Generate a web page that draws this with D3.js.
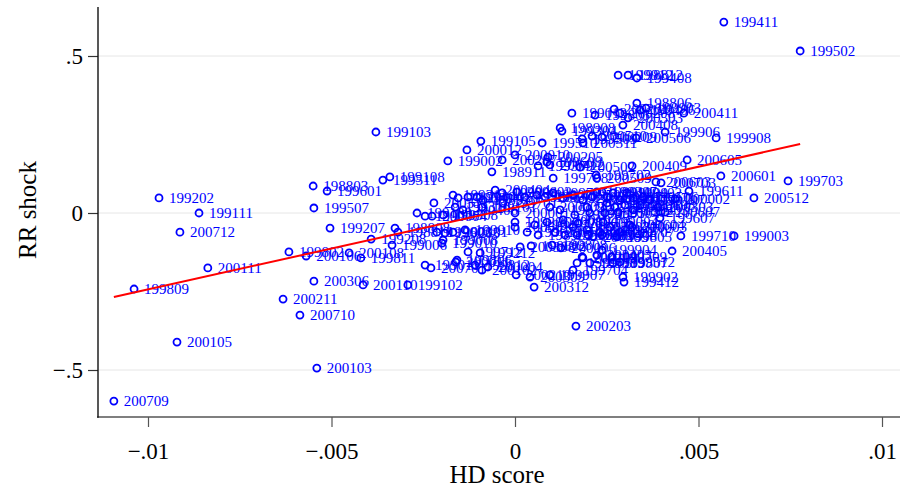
<!DOCTYPE html>
<html><head><meta charset="utf-8">
<script src="https://cdn.jsdelivr.net/npm/d3@7/dist/d3.min.js"></script>
<style>html,body{margin:0;padding:0;background:#fff;}svg{display:block;}</style>
</head><body>
<svg id="chart" width="900" height="490"></svg>
<script>
const labels = ["199411","199502","199202","199111","200712","200111","199809","200105","200709","199103",
"200103","200710","200211","200306","200110","199102","200203","200312","199412","200405",
"199003","199710","200512","199703","200601","200605","199908","200411","199611","200409",
"199906","200506","200408","198806","199408","199912","198812","200603","200002","199607",
"200003","199805","198803","199601","199507","199207","199511","199108","199105","200012",
"199002","200207","198911","199012","199803","200201","200208","200503","199903","199406",
"198908","199304","200510","200209","199509","200511","199510","200205","199609","200412",
"200010","199708","199309","200502","199311","200609","199404","200402","198910","200404",
"199204","200602","199606","200007","199306","199705","199210","199503","198909","200304",
"199911","199702","200509","199310","200406","199101","199701","200001","199206","200301",
"199612","198905","200009","199302","200104","200505","200606","199401","200305","199505",
"200212","199706","200008","199407","199910","200101","199712","199212","200308","199808",
"199806","199812","200004","200309","199907","199704","200109","199909","200403","199010",
"200011","200102","200210","199602","200006","199905","200204","199807","199512","200107",
"199608","200005","199604","200202","200604","199203","199307","200307","199409","199009",
"199402","200507","199506","199107","199211","199901","199201","200608","199303","199104",
"200302","199004","200310","199707","199508","199904","199709","199902","200303","200607",
"199802","200106","200108","199811","199208","198808","198810","200311","199109","199007",
"200704","199308","199603","199008","199006","199011","200701","200703"];
const hdScore = [0.00569,0.00777,-0.00970,-0.00861,-0.00913,-0.00837,-0.01038,-0.00921,-0.01093,-0.00379,
-0.00540,-0.00586,-0.00632,-0.00548,-0.00414,-0.00292,0.00166,0.00052,0.00297,0.00428,
0.00597,0.00452,0.00651,0.00744,0.00561,0.00469,0.00548,0.00460,0.00474,0.00319,
0.00409,0.00330,0.00294,0.00332,0.00332,0.00281,0.00308,0.00384,0.00436,0.00395,
0.00319,0.00278,-0.00550,-0.00512,-0.00548,-0.00504,-0.00360,-0.00341,-0.00093,-0.00131,
-0.00183,-0.00035,-0.00063,0.00155,0.00218,0.00270,0.00286,0.00308,0.00357,0.00341,
0.00123,0.00128,0.00210,0.00237,0.00183,0.00185,0.00074,0.00090,0.00087,0.00095,
0.00000,0.00104,0.00063,0.00177,-0.00169,-0.00155,-0.00128,-0.00104,-0.00087,-0.00054,
-0.00035,0.00005,0.00027,0.00060,0.00082,0.00104,0.00131,0.00158,0.00185,0.00210,
0.00223,0.00221,0.00223,-0.00163,-0.00142,-0.00090,-0.00033,0.00000,0.00000,0.00000,
0.00033,0.00063,0.00095,0.00123,0.00131,0.00158,0.00172,0.00196,0.00213,0.00204,
0.00196,0.00163,0.00087,0.00054,-0.00136,-0.00169,-0.00128,-0.00095,0.00014,0.00101,
-0.00158,-0.00109,-0.00074,0.00041,0.00095,0.00158,0.00185,0.00204,0.00223,-0.00199,
-0.00161,-0.00090,0.00003,0.00044,0.00125,0.00169,0.00183,0.00267,0.00286,0.00109,
0.00136,0.00169,0.00199,0.00232,0.00313,-0.00191,0.00237,0.00251,0.00267,0.00286,
0.00305,0.00322,0.00349,0.00368,0.00251,0.00272,0.00300,0.00341,0.00322,0.00245,
0.00281,0.00240,0.00259,0.00286,0.00237,0.00237,0.00264,0.00294,0.00390,0.00409,
-0.00616,-0.00569,-0.00452,-0.00420,-0.00392,-0.00327,-0.00319,-0.00221,-0.00267,-0.00245,
-0.00226,-0.00196,-0.00213,-0.00196,-0.00335,-0.00245,-0.00229,0.00398];
const rrShock = [0.608,0.516,0.048,0.000,-0.061,-0.175,-0.242,-0.411,-0.599,0.258,
-0.494,-0.325,-0.274,-0.217,-0.229,-0.229,-0.360,-0.236,-0.220,-0.121,
-0.073,-0.073,0.048,0.102,0.118,0.169,0.239,0.318,0.070,0.150,
0.258,0.239,0.280,0.350,0.430,0.439,0.439,0.099,0.045,-0.016,
-0.045,-0.076,0.086,0.070,0.016,-0.048,0.105,0.115,0.229,0.201,
0.166,0.169,0.131,0.318,0.312,0.331,0.318,0.303,0.334,0.328,
0.271,0.261,0.245,0.242,0.236,0.223,0.223,0.178,0.162,0.153,
0.185,0.111,0.150,0.146,0.057,0.048,0.051,0.051,0.041,0.073,
0.064,0.067,0.051,0.057,0.051,0.064,0.048,0.057,0.041,0.051,
0.067,0.121,0.111,0.019,0.010,0.019,0.032,0.000,-0.029,-0.045,
-0.061,-0.070,0.019,0.010,-0.022,-0.045,-0.032,-0.054,-0.076,0.000,
0.019,-0.006,-0.029,-0.038,-0.054,-0.061,-0.124,-0.127,-0.108,-0.102,
-0.150,-0.166,-0.172,-0.204,-0.197,-0.182,-0.143,-0.159,-0.134,-0.096,
-0.156,-0.182,-0.197,-0.105,-0.111,-0.159,-0.140,-0.159,-0.156,-0.061,
-0.070,-0.070,-0.070,-0.061,-0.038,-0.064,0.067,0.051,0.064,0.041,
0.064,0.048,0.051,0.041,0.032,0.019,0.025,0.025,0.010,0.000,
0.003,-0.029,-0.045,-0.061,-0.070,-0.118,-0.140,-0.204,0.019,0.003,
-0.124,-0.137,-0.127,-0.143,-0.083,-0.048,-0.061,0.032,0.000,-0.010,
-0.010,-0.006,-0.061,-0.086,-0.102,-0.166,-0.175,0.096];
// fitted line: intercept, slope
const fitCoef = [0.0172, 26.05];
const xTicks = [-0.01, -0.005, 0, 0.005, 0.01];
const xTickLabels = ["\u2212.01", "\u2212.005", "0", ".005", ".01"];
const yTicks = [0.5, 0, -0.5];
const yTickLabels = [".5", "0", "\u2212.5"];

const svg = d3.select("#chart");
const font = "'Liberation Serif','Times New Roman',serif";
const x = d3.scaleLinear().domain([-0.01, 0.01]).range([148, 882]);
const y = d3.scaleLinear().domain([-0.5, 0.5]).range([370, 56]);
const plotL = 98, plotR = 900, plotT = 7, plotB = 417;

// gridlines
svg.append("g").selectAll("line").data(yTicks).join("line")
  .attr("x1", plotL).attr("x2", plotR)
  .attr("y1", d => y(d)).attr("y2", d => y(d))
  .attr("stroke", "#e6e6e6").attr("stroke-width", 1);

// axes
const xAxis = d3.axisBottom(x).tickValues(xTicks).tickSize(10)
  .tickFormat((d, i) => xTickLabels[i]);
const gx = svg.append("g").attr("transform", `translate(0,${plotB})`).call(xAxis);
gx.select(".domain").remove();
gx.selectAll(".tick line").attr("stroke", "#555").attr("stroke-width", 1.2);
gx.selectAll(".tick text").attr("font-family", font).attr("font-size", 23)
  .attr("fill", "#000").attr("dy", "1.25em");
svg.append("line").attr("x1", plotL - 1).attr("x2", plotR).attr("y1", plotB).attr("y2", plotB)
  .attr("stroke", "#555").attr("stroke-width", 1.6);

const yAxis = d3.axisLeft(y).tickValues(yTicks).tickSize(10)
  .tickFormat((d, i) => yTickLabels[i]);
const gy = svg.append("g").attr("transform", `translate(${plotL},0)`).call(yAxis);
gy.select(".domain").remove();
gy.selectAll(".tick line").attr("stroke", "#333").attr("stroke-width", 1.2);
gy.selectAll(".tick text").attr("font-family", font).attr("font-size", 23)
  .attr("fill", "#000").attr("x", -15).attr("dy", "0.33em");
svg.append("line").attr("x1", plotL).attr("x2", plotL).attr("y1", plotT).attr("y2", plotB + 0.8)
  .attr("stroke", "#111").attr("stroke-width", 1.4);

// axis titles
svg.append("text").attr("x", 497).attr("y", 483).attr("text-anchor", "middle")
  .attr("font-family", font).attr("font-size", 25).text("HD score");
svg.append("text").attr("transform", "translate(36,210) rotate(-90)").attr("text-anchor", "middle")
  .attr("font-family", font).attr("font-size", 25).text("RR shock");

// points
const pts = labels.map((l, i) => ({label: l, hd: hdScore[i], rr: rrShock[i]}));
const gp = svg.append("g");
gp.selectAll("circle").data(pts).join("circle")
  .attr("cx", d => x(d.hd)).attr("cy", d => y(d.rr)).attr("r", 3.5)
  .attr("fill", "none").attr("stroke", "#0000ff").attr("stroke-width", 1.8);
gp.selectAll("text").data(pts).join("text")
  .attr("x", d => x(d.hd) + 10).attr("y", d => y(d.rr)).attr("dy", "0.35em")
  .attr("font-family", font).attr("font-size", 15).attr("fill", "#0000ff")
  .text(d => d.label);

// fitted line
const ext = d3.extent(hdScore);
svg.append("line")
  .attr("x1", x(ext[0])).attr("y1", y(fitCoef[0] + fitCoef[1] * ext[0]))
  .attr("x2", x(ext[1])).attr("y2", y(fitCoef[0] + fitCoef[1] * ext[1]))
  .attr("stroke", "#ff0000").attr("stroke-width", 2);
</script>
</body></html>
